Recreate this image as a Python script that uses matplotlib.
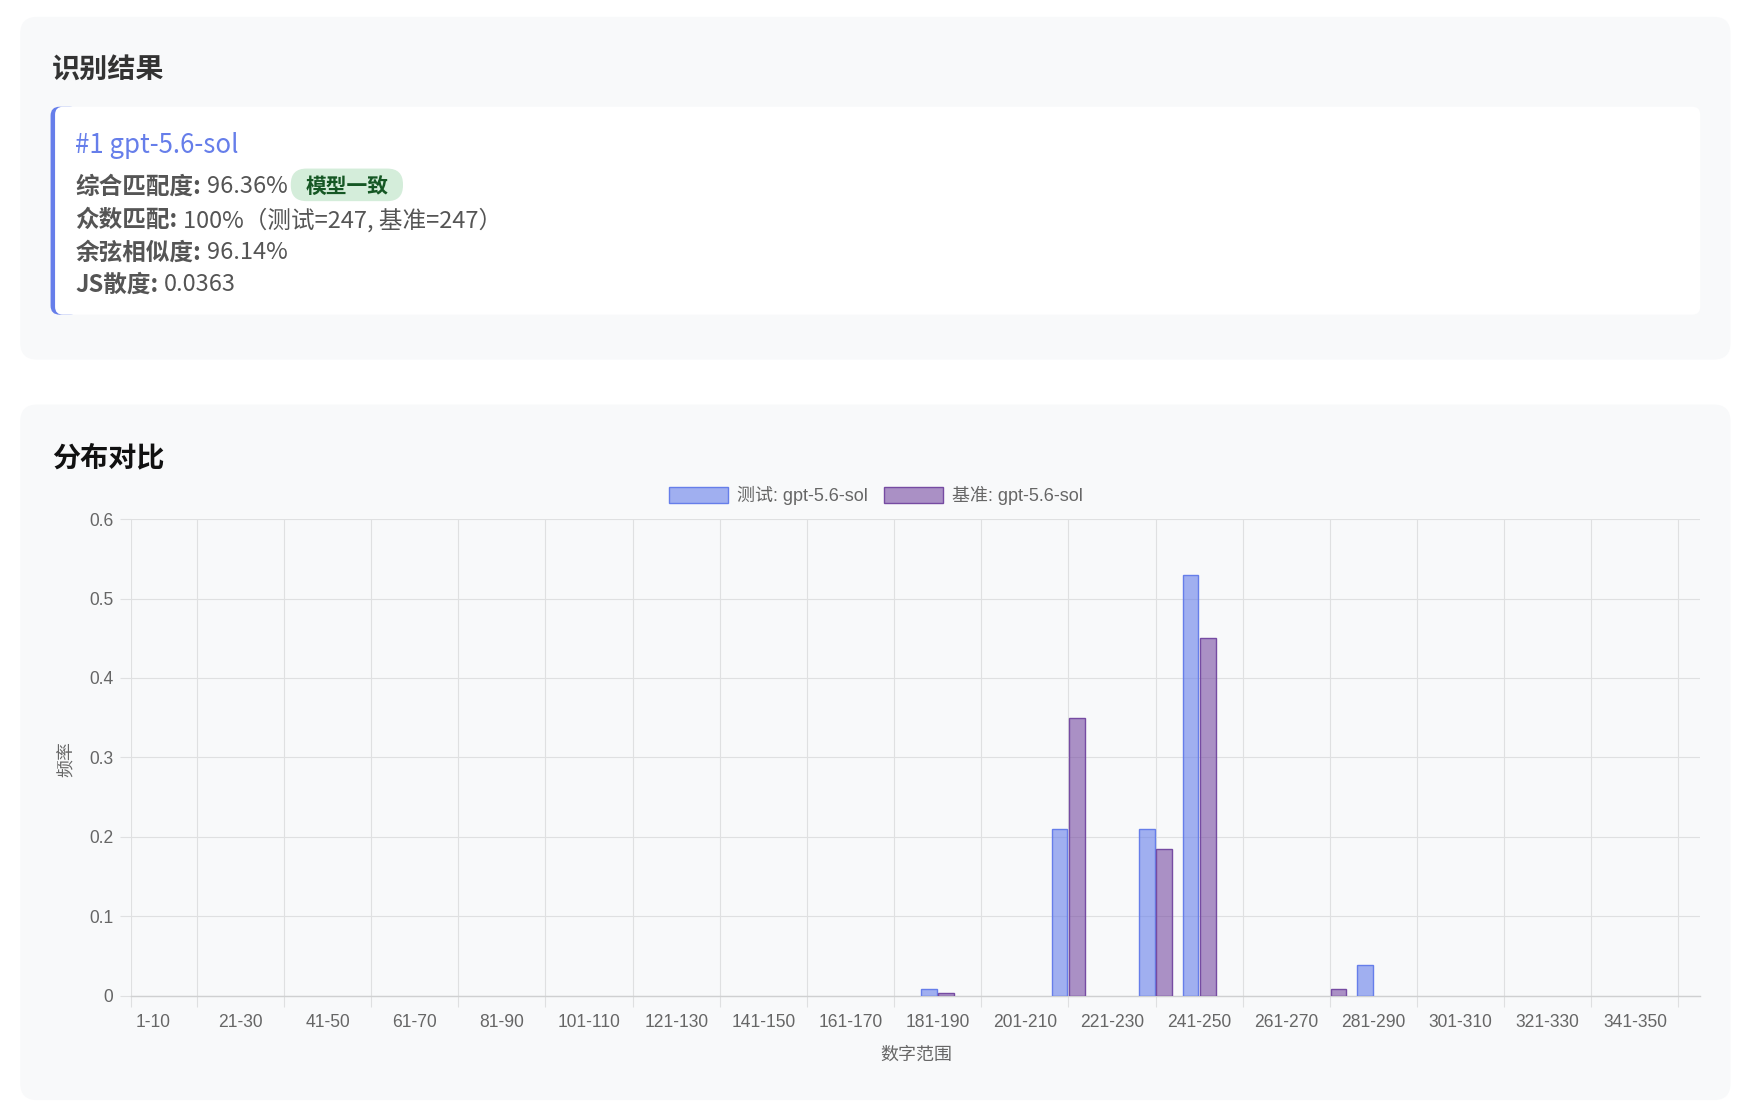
import matplotlib
matplotlib.use('Agg')
import matplotlib.pyplot as plt
from matplotlib.patches import FancyBboxPatch
import numpy as np

plt.rcParams['font.family'] = ['Noto Sans CJK SC', 'DejaVu Sans']

# ---- 数据 ----
model_name = 'gpt-5.6-sol'
score_total = '96.36%'
mode_match = '100%（测试=247, 基准=247）'
cosine_sim = '96.14%'
js_div = '0.0363'
badge_text = '模型一致'

categories = [f'{10 * i + 1}-{10 * i + 10}' for i in range(36)]
test_freq = [0] * 36
base_freq = [0] * 36
test_freq[18] = 0.008   # 181-190
test_freq[21] = 0.21    # 211-220
test_freq[23] = 0.21    # 231-240
test_freq[24] = 0.53    # 241-250
test_freq[28] = 0.039   # 281-290
base_freq[18] = 0.003
base_freq[21] = 0.35
base_freq[23] = 0.185
base_freq[24] = 0.45
base_freq[27] = 0.008   # 271-280
y_ticks = [0, 0.1, 0.2, 0.3, 0.4, 0.5, 0.6]
y_tick_labels = ['0', '0.1', '0.2', '0.3', '0.4', '0.5', '0.6']

# ---- 画布（布局单位，等比例） ----
W = 1568.0
H = W * 1111 / 1762
fig = plt.figure(figsize=(17.62, 11.11), dpi=100)
fig.patch.set_facecolor('white')
bg = fig.add_axes([0, 0, 1, 1])
bg.set_xlim(0, W)
bg.set_ylim(H, 0)
bg.axis('off')
renderer = fig.canvas.get_renderer()


def fs(px):
    # 布局像素 -> 磅
    return px * (1762 / W) * 72 / 100


def rbox(x0, y0, x1, y1, r, color, z=0):
    p = FancyBboxPatch((x0, y0), x1 - x0, y1 - y0,
                       boxstyle=f'round,pad=0,rounding_size={r}',
                       facecolor=color, edgecolor='none', zorder=z)
    bg.add_patch(p)


def right_edge(t):
    bb = t.get_window_extent(renderer)
    return bg.transData.inverted().transform((bb.x1, bb.y0))[0]


def label_value(x, y, label, value):
    t = bg.text(x, y, label, fontsize=fs(21), fontweight='bold', color='#555555',
                ha='left', va='center', zorder=5)
    x1 = right_edge(t) + 5
    t2 = bg.text(x1, y, value, fontsize=fs(21), color='#555555',
                 ha='left', va='center', zorder=5)
    return right_edge(t2)


# 卡片
rbox(18, 15, 1540, 320, 15, '#f8f9fa')
rbox(18, 360, 1540, 979, 15, '#f8f9fa')
rbox(45, 95, 70, 280, 8, '#667eea', 1)
rbox(49, 95, 1513, 280, 7, '#ffffff', 2)

bg.text(46, 62.5, '识别结果', fontsize=fs(25), fontweight='bold', color='#333333',
        ha='left', va='center', zorder=5)
bg.text(67, 129.5, f'#1 {model_name}', fontsize=fs(23), fontweight='medium',
        color='#667eea', ha='left', va='center', zorder=5)

end = label_value(67, 166, '综合匹配度:', score_total)
bt = bg.text(end + 16, 166, badge_text, fontsize=fs(18.5), fontweight='bold',
             color='#155724', ha='left', va='center', zorder=6)
bx1 = right_edge(bt)
rbox(end + 3, 150, bx1 + 13, 179, 14, '#d4edda', 4)
label_value(67, 196, '众数匹配:', mode_match)
label_value(67, 225, '余弦相似度:', cosine_sim)
label_value(67, 253, 'JS散度:', js_div)

bg.text(46, 407.5, '分布对比', fontsize=fs(25), fontweight='bold', color='#111111',
        ha='left', va='center', zorder=5)

# ---- 柱状图 ----
grid_c = '#dfe0e1'
chart_font = ['Liberation Sans', 'Noto Sans CJK SC']
left, right, top, bottom = 117, 1513, 462, 886
ax = fig.add_axes([left / W, 1 - bottom / H, (right - left) / W, (bottom - top) / H])
ax.patch.set_alpha(0)

x = np.arange(len(categories))
tx = [i for i in x if test_freq[i] > 0]
bx = [i for i in x if base_freq[i] > 0]
ax.bar(np.array(tx) - 0.2, [test_freq[i] for i in tx], width=0.36,
       color=(102 / 255, 126 / 255, 234 / 255, 0.6), edgecolor='#667eea',
       linewidth=1.0, label=f'测试: {model_name}', zorder=3)
ax.bar(np.array(bx) + 0.2, [base_freq[i] for i in bx], width=0.36,
       color=(118 / 255, 75 / 255, 162 / 255, 0.6), edgecolor='#764ba2',
       linewidth=1.0, label=f'基准: {model_name}', zorder=3)

ax.set_xlim(-0.5, len(categories) - 0.5)
ax.set_ylim(0, 0.6)

# 网格线位于被跳过的类别中心
ax.set_xticks([-0.5] + list(range(1, len(categories), 2)))
ax.set_xticklabels([])
ax.set_xticks(list(range(0, len(categories), 2)), minor=True)
ax.set_xticklabels(categories[::2], minor=True, fontsize=fs(15.6),
                   color='#666666', family=chart_font)
ax.tick_params(axis='x', which='major', length=8.1, width=0.8, color=grid_c)
ax.tick_params(axis='x', which='minor', length=0, pad=13.5)
ax.set_yticks(y_ticks)
ax.set_yticklabels(y_tick_labels, fontsize=fs(15.6), color='#666666', family=chart_font)
ax.tick_params(axis='y', length=8.1, width=0.8, color=grid_c, pad=4.9)
ax.grid(True, which='major', color=grid_c, linewidth=0.8, zorder=0)
ax.set_axisbelow(True)
for s in ['top', 'right', 'left']:
    ax.spines[s].set_visible(False)
ax.spines['bottom'].set_color('#cfd0d1')
ax.spines['bottom'].set_linewidth(1.0)

bg.text(815, 939, '数字范围', fontsize=fs(16), color='#666666', ha='center',
        va='center', family=chart_font)
bg.text(60, 675, '频率', fontsize=fs(16), color='#666666', ha='center',
        va='center', rotation=90, family=chart_font)

leg = ax.legend(loc='center', bbox_to_anchor=(779.5 / W, 1 - 441 / H),
                bbox_transform=fig.transFigure, ncol=2, frameon=False,
                handlelength=3.3, handleheight=1.0,
                handletextpad=0.5, columnspacing=0.875, labelcolor='#666666',
                prop={'family': chart_font, 'size': fs(16)})

fig.savefig('out.png', dpi=100, facecolor='white')
